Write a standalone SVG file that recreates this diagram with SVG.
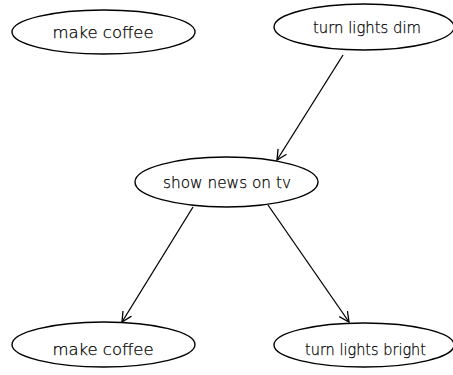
<svg xmlns="http://www.w3.org/2000/svg" width="453" height="375" viewBox="0 0 453 375">
<defs>
<marker id="arr" markerWidth="12" markerHeight="12" refX="10" refY="5" orient="auto" markerUnits="userSpaceOnUse" viewBox="0 0 12 10">
<path d="M0,0 L10,5 L0,10" fill="none" stroke="#000" stroke-width="1.3"/>
</marker>
<style>
.n ellipse{fill:#fff;stroke:#000;stroke-width:1.4}
.n text{font-family:"DejaVu Sans",sans-serif;font-weight:200;font-size:16px;fill:#000;stroke:#000;stroke-width:0.25;text-anchor:middle}
.e line{stroke:#000;stroke-width:1.3;marker-end:url(#arr)}
</style>
</defs>
<rect width="453" height="375" fill="#fff"/>
<g class="e" id="connectors">
<line x1="343" y1="55" x2="277" y2="160"/>
<line x1="193" y1="207" x2="122" y2="322"/>
<line x1="268" y1="205" x2="349" y2="322"/>
</g>
<g class="n" id="n_make_coffee_top">
<ellipse cx="103.5" cy="32" rx="91.5" ry="22"/>
<text x="103" y="38" textLength="101" lengthAdjust="spacingAndGlyphs">make coffee</text>
</g>
<g class="n" id="n_turn_lights_dim">
<ellipse cx="364" cy="27" rx="90" ry="23"/>
<text x="367" y="33" textLength="108" lengthAdjust="spacingAndGlyphs">turn lights dim</text>
</g>
<g class="n" id="n_show_news">
<ellipse cx="226.5" cy="182" rx="91.5" ry="25"/>
<text x="227" y="188" textLength="128" lengthAdjust="spacingAndGlyphs">show news on tv</text>
</g>
<g class="n" id="n_make_coffee_bottom">
<ellipse cx="103.5" cy="344.5" rx="91.5" ry="22.5"/>
<text x="103" y="355" textLength="101" lengthAdjust="spacingAndGlyphs">make coffee</text>
</g>
<g class="n" id="n_turn_lights_bright">
<ellipse cx="364" cy="345" rx="90" ry="22"/>
<text x="365.5" y="355" textLength="121" lengthAdjust="spacingAndGlyphs">turn lights bright</text>
</g>
</svg>
